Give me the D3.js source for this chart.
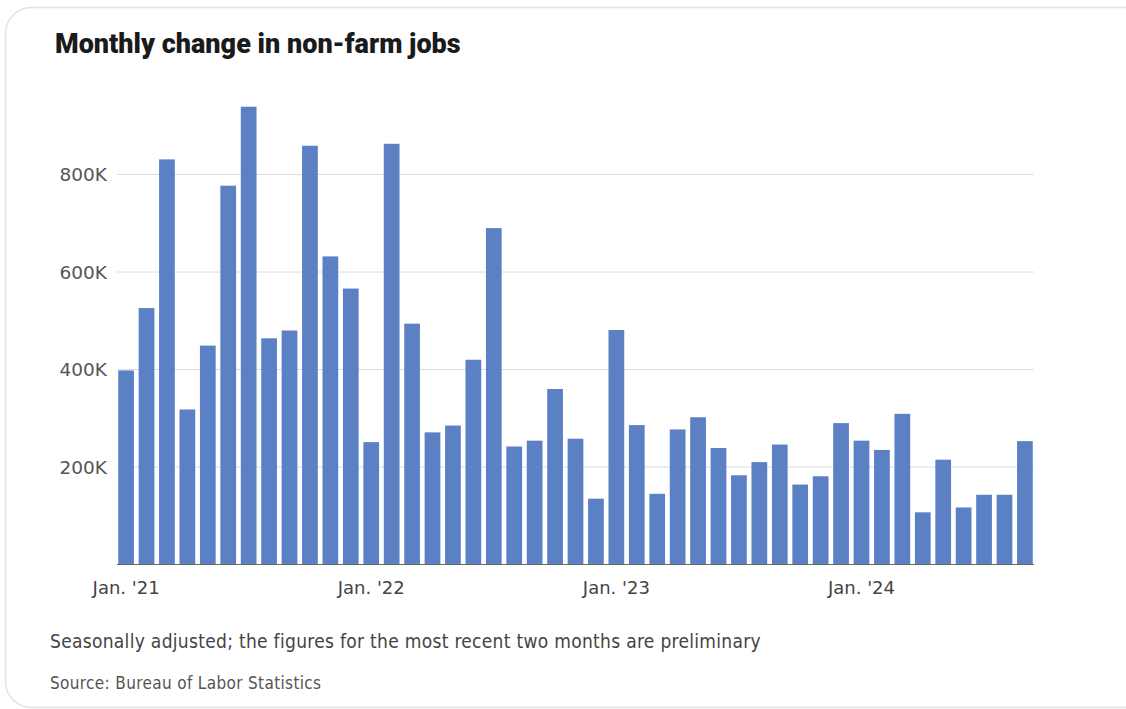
<!DOCTYPE html>
<html>
<head>
<meta charset="utf-8">
<script src="https://cdn.jsdelivr.net/npm/d3@7"></script>
<style>
  html, body { margin: 0; padding: 0; background: #fff; }
  svg { display: block; }
</style>
</head>
<body>
<div id="chart"></div>
<script>
// monthly change in non-farm jobs, thousands, Jan 2021 - Sep 2024
const months = d3.range(45).map(i => new Date(2021, i, 1))
const jobs = [
  397, 525, 830, 317, 448, 776, 938, 463, 479, 858, 631, 565,
  250, 862, 493, 270, 284, 419, 689, 241, 253, 359, 257, 134,
  480, 285, 144, 276, 301, 238, 182, 209, 245, 163, 180, 289,
  253, 234, 308, 106, 214, 116, 142, 142, 252
]
const yTicks = [200, 400, 600, 800]
const xTickLabels = ["Jan. '21", "Jan. '22", "Jan. '23", "Jan. '24"]

const W = 1126, H = 709
const margin = { top: 100, right: 92, bottom: 145, left: 117 }
const width = W - margin.left - margin.right
const height = H - margin.top - margin.bottom

const svg = d3.select('#chart').append('svg')
  .attr('width', W)
  .attr('height', H)

// card outline
svg.append('rect')
  .attr('x', 5.5).attr('y', 7.5)
  .attr('width', W + 20).attr('height', H - 9)
  .attr('rx', 26)
  .attr('fill', '#fff')
  .attr('stroke', '#dfe4e8')
  .attr('stroke-width', 1.5)

svg.append('text')
  .attr('x', 55).attr('y', 53)
  .attr('font-family', 'Roboto, "Liberation Sans", sans-serif')
  .attr('font-weight', 900)
  .attr('font-size', '27px')
  .attr('fill', '#1a1a1a')
  .text('Monthly change in non-farm jobs')

const g = svg.append('g').attr('transform', `translate(${margin.left},${margin.top})`)

const x = d3.scaleBand().domain(months).range([0, width]).paddingInner(0.23).paddingOuter(0.06)
const y = d3.scaleLinear().domain([0, 950]).range([height, height - 950 * 0.4875])

const axisFont = '"DejaVu Sans", sans-serif'
const condensed = '"DejaVu Sans Condensed", "Liberation Sans Narrow", sans-serif'

// gridlines + y labels
const yAxis = g.append('g')
  .call(d3.axisLeft(y).tickValues(yTicks).tickSize(-width).tickFormat(d => d + 'K'))
yAxis.select('.domain').remove()
yAxis.selectAll('.tick line').attr('stroke', '#dcdcdc').attr('stroke-width', 1)
yAxis.selectAll('.tick text')
  .attr('x', -10).attr('dy', '0.36em')
  .attr('font-family', axisFont).attr('font-size', '18.5px').attr('fill', '#555')

// bars
g.selectAll('rect.bar').data(jobs).join('rect')
  .attr('class', 'bar')
  .attr('x', (d, i) => x(months[i]))
  .attr('y', d => y(d))
  .attr('width', x.bandwidth())
  .attr('height', d => y(0) - y(d))
  .attr('fill', '#5b80c4')

// baseline
g.append('line')
  .attr('x1', 0).attr('x2', width)
  .attr('y1', y(0) + 0.5).attr('y2', y(0) + 0.5)
  .attr('stroke', '#666').attr('stroke-width', 1.2)

// x labels
const janMonths = months.filter(m => m.getMonth() === 0)
const xAxis = g.append('g').attr('transform', `translate(0,${y(0)})`)
  .call(d3.axisBottom(x).tickValues(janMonths).tickSize(0)
    .tickFormat((d, i) => xTickLabels[i]))
xAxis.select('.domain').remove()
xAxis.selectAll('.tick text')
  .attr('y', 30).attr('dy', 0)
  .attr('font-family', axisFont).attr('font-size', '18px').attr('fill', '#444')

svg.append('text')
  .attr('x', 50).attr('y', 648)
  .attr('font-family', condensed).attr('font-size', '19px').attr('fill', '#444')
  .attr('letter-spacing', 0.3)
  .text('Seasonally adjusted; the figures for the most recent two months are preliminary')

svg.append('text')
  .attr('x', 50).attr('y', 689)
  .attr('font-family', condensed).attr('font-size', '17px').attr('fill', '#555')
  .attr('letter-spacing', 0.35)
  .text('Source: Bureau of Labor Statistics')
</script>
</body>
</html>
